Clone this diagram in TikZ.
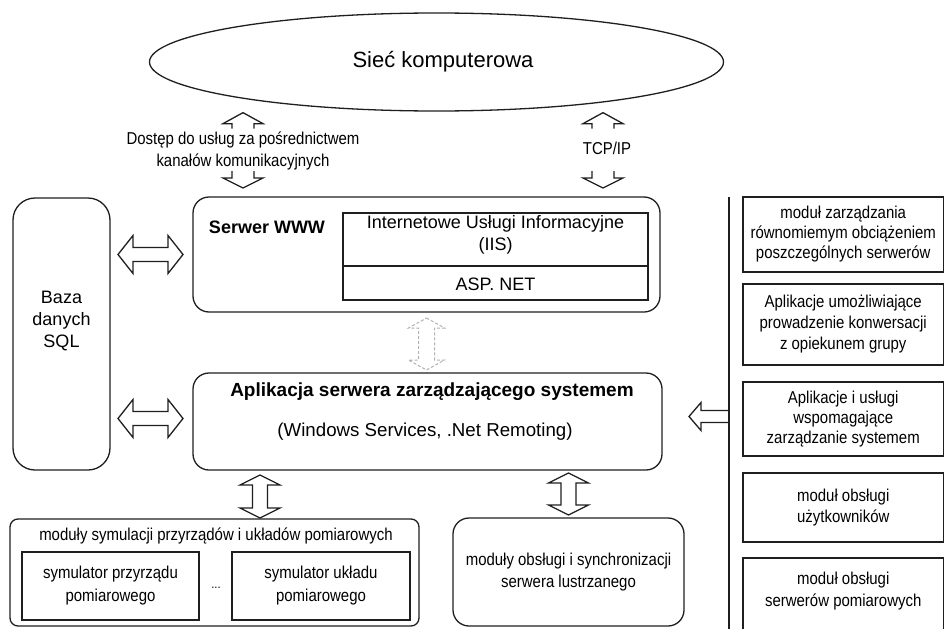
\documentclass[tikz,border=0pt]{standalone}
\usepackage{fontspec}
\setmainfont{Liberation Sans}
\newfontfamily\narrowf{Liberation Sans}[FakeStretch=0.87]
\usetikzlibrary{calc,shapes.geometric}

\tikzset{
  ink/.style={draw=black!88, line width=1.3pt},
  rbox/.style={ink, rounded corners=#1, inner sep=0pt, outer sep=0pt},
  rbox/.default=16pt,
  sbox/.style={ink, inner sep=0pt, outer sep=0pt},
  reg/.style={font=\fontsize{18}{21.5}\selectfont, align=center, inner sep=0pt},
  regb/.style={font=\bfseries\fontsize{18}{21.5}\selectfont, align=center, inner sep=0pt},
  nar/.style={font=\narrowf\fontsize{17.2}{21}\selectfont, align=center, inner sep=0pt},
  hollow/.style={draw=black!88, line width=1.3pt, line join=miter},
  ghost/.style={draw=black!30, line width=1pt, dash pattern=on 3pt off 2pt},
}

% hollow double arrow, horizontal, between two points at one height
\newcommand\bkH[2]{\draw[hollow] let \p1=#1, \p2=#2 in
  (\x1,\y1) -- (\x1+15pt,\y1+19pt) -- (\x1+15pt,\y1+7pt) -- (\x2-15pt,\y1+7pt)
  -- (\x2-15pt,\y1+19pt) -- (\x2,\y1) -- (\x2-15pt,\y1-19pt) -- (\x2-15pt,\y1-7pt)
  -- (\x1+15pt,\y1-7pt) -- (\x1+15pt,\y1-19pt) -- cycle;}
% hollow double arrow, vertical: style, top, bottom, head half width, stem half width, head length
\newcommand\bkV[6]{\draw[#1] let \p1=#2, \p2=#3 in
  (\x1,\y1) -- (\x1+#4,\y1-#6) -- (\x1+#5,\y1-#6) -- (\x1+#5,\y2+#6) -- (\x1+#4,\y2+#6)
  -- (\x1,\y2) -- (\x1-#4,\y2+#6) -- (\x1-#5,\y2+#6) -- (\x1-#5,\y1-#6) -- (\x1-#4,\y1-#6) -- cycle;}
% open-tailed arrow heads pointing up / down
\newcommand\bkUp[1]{\draw[hollow] let \p1=#1 in
  (\x1-11pt,\y1-16pt) -- (\x1-11pt,\y1-11pt) -- (\x1-20pt,\y1-11pt) -- (\x1,\y1)
  -- (\x1+20pt,\y1-11pt) -- (\x1+11pt,\y1-11pt) -- (\x1+11pt,\y1-16pt);}
\newcommand\bkDown[1]{\draw[hollow] let \p1=#1 in
  (\x1-11pt,\y1+17pt) -- (\x1-11pt,\y1+10pt) -- (\x1-20pt,\y1+10pt) -- (\x1,\y1)
  -- (\x1+20pt,\y1+10pt) -- (\x1+11pt,\y1+10pt) -- (\x1+11pt,\y1+17pt);}
% left-pointing arrow whose stem runs to a vertical line
\newcommand\bkLeft[2]{\draw[hollow] let \p1=#1, \p2=#2 in
  (\x2,\y1+6pt) -- (\x1+12pt,\y1+6pt) -- (\x1+12pt,\y1+14pt) -- (\x1,\y1)
  -- (\x1+12pt,\y1-14pt) -- (\x1+12pt,\y1-6pt) -- (\x2,\y1-6pt);}

\begin{document}
\begin{tikzpicture}[x=1pt,y=-1pt]
\useasboundingbox (0,0) rectangle (945,629);
\clip (0,0) rectangle (945,629);
\fill[white] (0,0) rectangle (945,629);

% network
\node[ellipse, ink, minimum width=574pt, minimum height=98pt, inner sep=0pt] (net) at (436.5,62) {};
\node[font=\fontsize{22}{26}\selectfont, inner sep=0pt] (nettxt) at (443,62) {Sieć komputerowa};

% database
\node[rbox=22pt, minimum width=97pt, minimum height=272pt] (baza) at (61.5,334) {};
\node[reg, font=\fontsize{18}{22}\selectfont] (bazatxt) at (61.5,321) {Baza\\danych\\SQL};

% web server
\node[rbox, minimum width=467pt, minimum height=115pt] (www) at (426.5,254.5) {};
\node[regb] (wwwtxt) at (267,227) {Serwer WWW};
\node[sbox, minimum width=305pt, minimum height=53pt] (iis) at (495.5,239.5) {};
\node[sbox, minimum width=305pt, minimum height=34pt] (asp) at (495.5,283) {};
\node[reg] (iistxt) at (495.5,235) {Internetowe Usługi Informacyjne\\(IIS)};
\node[reg] (asptxt) at (495.5,284) {ASP. NET};

% management server application
\node[rbox, minimum width=469pt, minimum height=97pt] (app) at (427.5,421.5) {};
\node[regb, font=\bfseries\fontsize{19}{22}\selectfont] (apptxt) at (432,392) {Aplikacja serwera zarządzającego systemem};
\node[reg, font=\fontsize{18.7}{22}\selectfont] (appsub) at (425,432) {(Windows Services, .Net Remoting)};

% simulation modules
\node[rbox=8pt, minimum width=409pt, minimum height=107pt] (sym) at (214.5,572.5) {};
\node[nar] (symtxt) at (216,536) {moduły symulacji przyrządów i układów pomiarowych};
\node[sbox, minimum width=177pt, minimum height=68pt, nar, font=\narrowf\fontsize{17.2}{23}\selectfont] (sim1) at (110.5,586)
  {symulator przyrządu\\pomiarowego};
\node[sbox, minimum width=178pt, minimum height=68pt, nar, font=\narrowf\fontsize{17.2}{23}\selectfont] (sim2) at (321,586)
  {symulator układu\\pomiarowego};
\node[nar, font=\narrowf\fontsize{13}{14}\selectfont] (dots) at (216,588) {...};

% mirror server
\node[rbox, minimum width=231pt, minimum height=108pt, nar, font=\narrowf\fontsize{17.2}{22}\selectfont] (mirror) at (568.5,572)
  {moduły obsługi i synchronizacji\\serwera lustrzanego};

% right column
\coordinate (bustop) at (729,197);
\coordinate (busbot) at (729,640);
\draw[ink] (bustop) -- (busbot);
\node[sbox, minimum width=200.5pt, minimum height=75pt, nar, font=\narrowf\fontsize{17.2}{20}\selectfont] (r1) at (843.25,234.5)
  {moduł zarządzania\\równomiemym obciążeniem\\poszczególnych serwerów};
\node[sbox, minimum width=200.5pt, minimum height=81pt, nar] (r2) at (843.25,324.5)
  {Aplikacje umożliwiające\\prowadzenie konwersacji\\z opiekunem grupy};
\node[sbox, minimum width=200.5pt, minimum height=74pt, nar, font=\narrowf\fontsize{17.2}{20}\selectfont] (r3) at (843.25,419)
  {Aplikacje i usługi\\wspomagające\\zarządzanie systemem};
\node[sbox, minimum width=200.5pt, minimum height=69pt, nar] (r4) at (843.25,507.5)
  {moduł obsługi\\użytkowników};
\node[sbox, minimum width=200.5pt, minimum height=90pt] (r5) at (843.25,603) {};
\node[nar, font=\narrowf\fontsize{17.2}{22}\selectfont] (r5txt) at (843.25,591) {moduł obsługi\\serwerów pomiarowych};

% block arrows
\coordinate (accx) at (243,0);
\coordinate (tcpx) at (603,0);
\coordinate (symx) at (260,0);

\bkUp{($(net.south -| accx)+(0,1)$)}
\bkDown{($(www.north -| accx)+(0,-9)$)}
\node[nar, font=\narrowf\fontsize{17.2}{22}\selectfont] (acctxt) at (243,151) {Dostęp do usług za pośrednictwem\\kanałów komunikacyjnych};

\bkUp{($(net.south -| tcpx)+(0,1)$)}
\bkDown{($(www.north -| tcpx)+(0,-9)$)}
\node[nar] (tcptxt) at (607,148) {TCP/IP};

\bkH{($(baza.east |- www.west)+(8,0)$)}{($(www.west)+(-10,0)$)}
\bkH{($(baza.east |- app.west)+(8,-3)$)}{($(app.west)+(-10,-3)$)}

\bkV{ghost}{($(www.south)+(0,6)$)}{($(app.north -| www.south)+(0,-3)$)}{18pt}{8pt}{10pt}
\bkV{hollow}{($(app.south -| symx)+(0,5)$)}{($(sym.north -| symx)+(0,-1)$)}{20pt}{7.5pt}{10pt}
\bkV{hollow}{($(app.south -| mirror.north)+(0,3)$)}{($(mirror.north)+(0,-3)$)}{20pt}{7.5pt}{10pt}

\bkLeft{($(app.east)+(27,-5)$)}{(bustop)}
\end{tikzpicture}
\end{document}
